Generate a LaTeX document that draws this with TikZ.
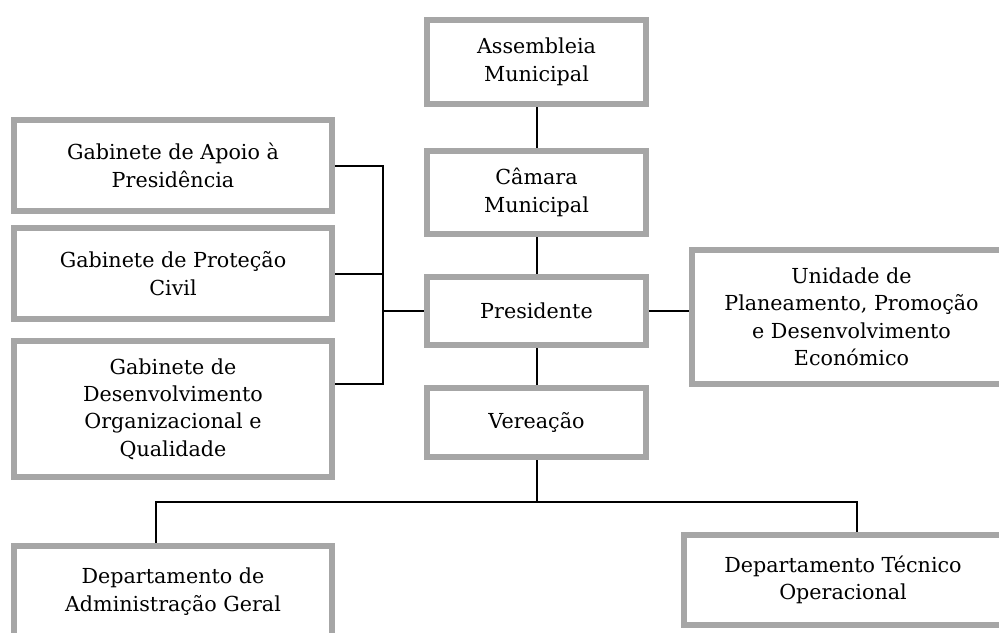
\documentclass[tikz,border=0pt]{standalone}
\usepackage{fontspec}
\setmainfont{DejaVu Serif}
\definecolor{boxgray}{HTML}{A6A6A6}
\tikzset{
	orgbox/.style={rectangle, draw=boxgray, line width=4.8pt, fill=white, align=center, inner sep=0pt,
		font=\fontsize{15.5}{20.6}\selectfont},
	link/.style={draw=black, line width=1.5pt}
}
\begin{document}
\begin{tikzpicture}[x=0.75pt,y=-0.75pt]
	\useasboundingbox (0,0) rectangle (999,632);

	\node 	(am)	at	(536.5,62) 	[orgbox, minimum width=164.25pt, minimum height=63pt]{Assembleia\\Municipal};
	\node 	(cm)	at	(536.5,192.5) 	[orgbox, minimum width=164.25pt, minimum height=62.25pt]{Câmara\\Municipal};
	\node 	(pres)	at	(536.5,311) 	[orgbox, minimum width=164.25pt, minimum height=51pt]{Presidente};
	\node 	(ver)	at	(536.5,422.5) 	[orgbox, minimum width=164.25pt, minimum height=51.75pt]{Vereação};

	\node 	(gap)	at	(173,165.5) 	[orgbox, minimum width=238.5pt, minimum height=68.25pt]{Gabinete de Apoio à\\Presidência};
	\node 	(gpc)	at	(173,273.5) 	[orgbox, minimum width=238.5pt, minimum height=68.25pt]{Gabinete de Proteção\\Civil};
	\node 	(gdo)	at	(173,409) 	[orgbox, minimum width=238.5pt, minimum height=102pt]{Gabinete de\\Desenvolvimento\\Organizacional e\\Qualidade};

	\node 	(upp)	at	(851.5,317) 	[orgbox, minimum width=239.25pt, minimum height=100.5pt]{Unidade de\\Planeamento, Promoção\\e Desenvolvimento\\Económico};

	\node 	(dag)	at	(173,591.5) 	[orgbox, minimum width=238.5pt, minimum height=68.25pt]{Departamento de\\Administração Geral};
	\node 	(dto)	at	(843,580) 	[orgbox, minimum width=238.5pt, minimum height=67.5pt]{Departamento Técnico\\Operacional};

	% central line
	\draw[link] (am) -- (cm);
	\draw[link] (cm) -- (pres);
	\draw[link] (pres) -- (ver);

	% gabinetes
	\coordinate (lbus) at (383,311);
	\draw[link] (gap.east) -| (lbus);
	\draw[link] (gpc.east) -| (lbus);
	\draw[link] ([yshift=18.75pt]gdo.east) -| (lbus) -- (pres.west);

	\draw[link] (pres.east) -- (pres.east -| upp.west);

	% departamentos
	\coordinate (bbus) at (536.5,502);
	\draw[link] (ver.south) -- (bbus);
	\draw[link] (bbus) -| ([xshift=-12.75pt]dag.north);
	\draw[link] (bbus) -| ([xshift=10.5pt]dto.north);

\end{tikzpicture}
\end{document}
